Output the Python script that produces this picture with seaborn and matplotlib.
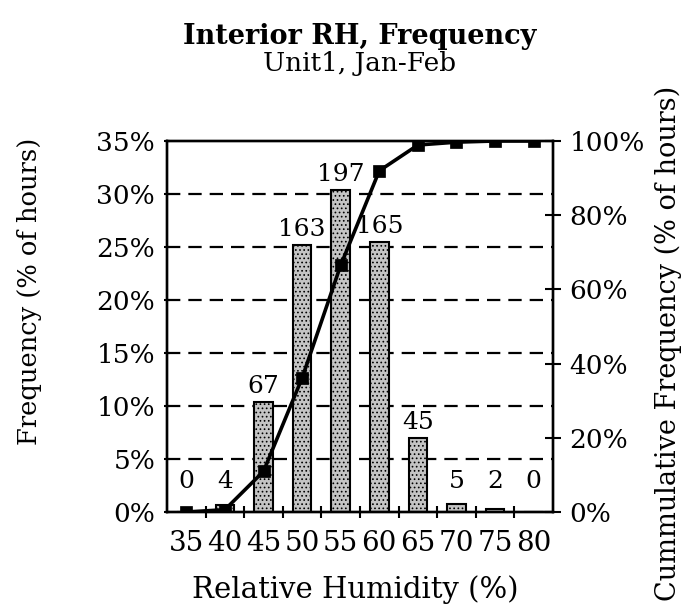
"""Interior RH frequency histogram with cumulative line (Unit1, Jan-Feb)."""

import matplotlib
matplotlib.use('Agg')
import matplotlib.pyplot as plt
import numpy as np
import pandas as pd
import seaborn as sns
from matplotlib.ticker import FuncFormatter

# data
rh_bins = ["35", "40", "45", "50", "55", "60", "65", "70", "75", "80"]
hours = [0, 4, 67, 163, 197, 165, 45, 5, 2, 0]
freq_ticks = [0, 5, 10, 15, 20, 25, 30, 35]
cum_ticks = [0, 20, 40, 60, 80, 100]

total = sum(hours)
freq_pct = [100.0 * h / total for h in hours]
cum_pct = list(np.cumsum(freq_pct))

df = pd.DataFrame({"rh": rh_bins, "hours": hours, "freq": freq_pct, "cum": cum_pct})

sns.set_theme(style="white")
plt.rcParams["font.family"] = ["DejaVu Serif"]
plt.rcParams["text.color"] = "black"
plt.rcParams["xtick.color"] = "black"
plt.rcParams["ytick.color"] = "black"
plt.rcParams["xtick.labelcolor"] = "black"
plt.rcParams["ytick.labelcolor"] = "black"
plt.rcParams["hatch.color"] = "#444444"
plt.rcParams["hatch.linewidth"] = 0.7

fig = plt.figure(figsize=(6.91, 6.14), dpi=100)
ax = fig.add_axes([167 / 691, 1 - 512 / 614, 386 / 691, 371 / 614])

# dashed horizontal grid behind the bars
ax.set_axisbelow(True)
for y in freq_ticks[1:-1]:
    ax.axhline(y, color="black", lw=1.6, dashes=(6.0, 3.6), zorder=0)

sns.barplot(data=df, x="rh", y="freq", order=rh_bins, color="#c4c4c4",
            width=0.48, edgecolor="black", linewidth=1.5, hatch="....",
            saturation=1, ax=ax, zorder=2)

for i, (h, f) in enumerate(zip(hours, freq_pct)):
    ax.annotate(str(h), (i, max(f, 1.4)), xytext=(0, 3), textcoords="offset points",
                ha="center", va="bottom", fontsize=18)

ax.set_xlim(-0.5, len(rh_bins) - 0.5)
ax.set_ylim(0, 35)
ax.set_yticks(freq_ticks)
ax.yaxis.set_major_formatter(FuncFormatter(lambda v, p: f"{v:.0f}%"))
ax.set_xticks(np.arange(0.5, len(rh_bins) - 1, 1), minor=True)
ax.tick_params(axis="x", which="major", length=0, pad=13, labelsize=20)
ax.tick_params(axis="x", which="minor", direction="inout", length=9, width=1.5,
               bottom=True)
ax.tick_params(axis="y", direction="inout", length=5, width=1.5, left=True,
               pad=6, labelsize=19)
ax.set_xlabel("")
ax.set_ylabel("")
for s in ax.spines.values():
    s.set_color("black")
    s.set_linewidth(1.7)

# cumulative line on the right axis
ax2 = ax.twinx()
sns.pointplot(data=df, x="rh", y="cum", order=rh_bins, color="black",
              markers="s", errorbar=None, markersize=7.5, linewidth=2.6, ax=ax2)
ax2.set_xlim(-0.5, len(rh_bins) - 0.5)
ax2.set_ylim(0, 100)
ax2.set_yticks(cum_ticks)
ax2.yaxis.set_major_formatter(FuncFormatter(lambda v, p: f"{v:.0f}%"))
ax2.tick_params(axis="y", direction="inout", length=12, width=1.5, right=True,
                pad=6, labelsize=19)
ax2.set_xlabel("")
ax2.set_ylabel("")
for s in ax2.spines.values():
    s.set_color("black")
    s.set_linewidth(1.7)

# titles and axis labels
fig.text(360 / 691, 1 - 36 / 614, "Interior RH, Frequency", ha="center",
         va="center", fontsize=19.5, fontweight="bold")
fig.text(360 / 691, 1 - 63 / 614, "Unit1, Jan-Feb", ha="center", va="center",
         fontsize=19)
fig.text(30 / 691, 1 - 291 / 614, "Frequency (% of hours)", rotation=90,
         ha="center", va="center", fontsize=18.5)
fig.text(668 / 691, 1 - 343 / 614, "Cummulative Frequency (% of hours)",
         rotation=90, ha="center", va="center", fontsize=19.5)
fig.text(355 / 691, 1 - 590 / 614, "Relative Humidity (%)", ha="center",
         va="center", fontsize=21)

plt.savefig("out.png", dpi=100)
plt.close()
